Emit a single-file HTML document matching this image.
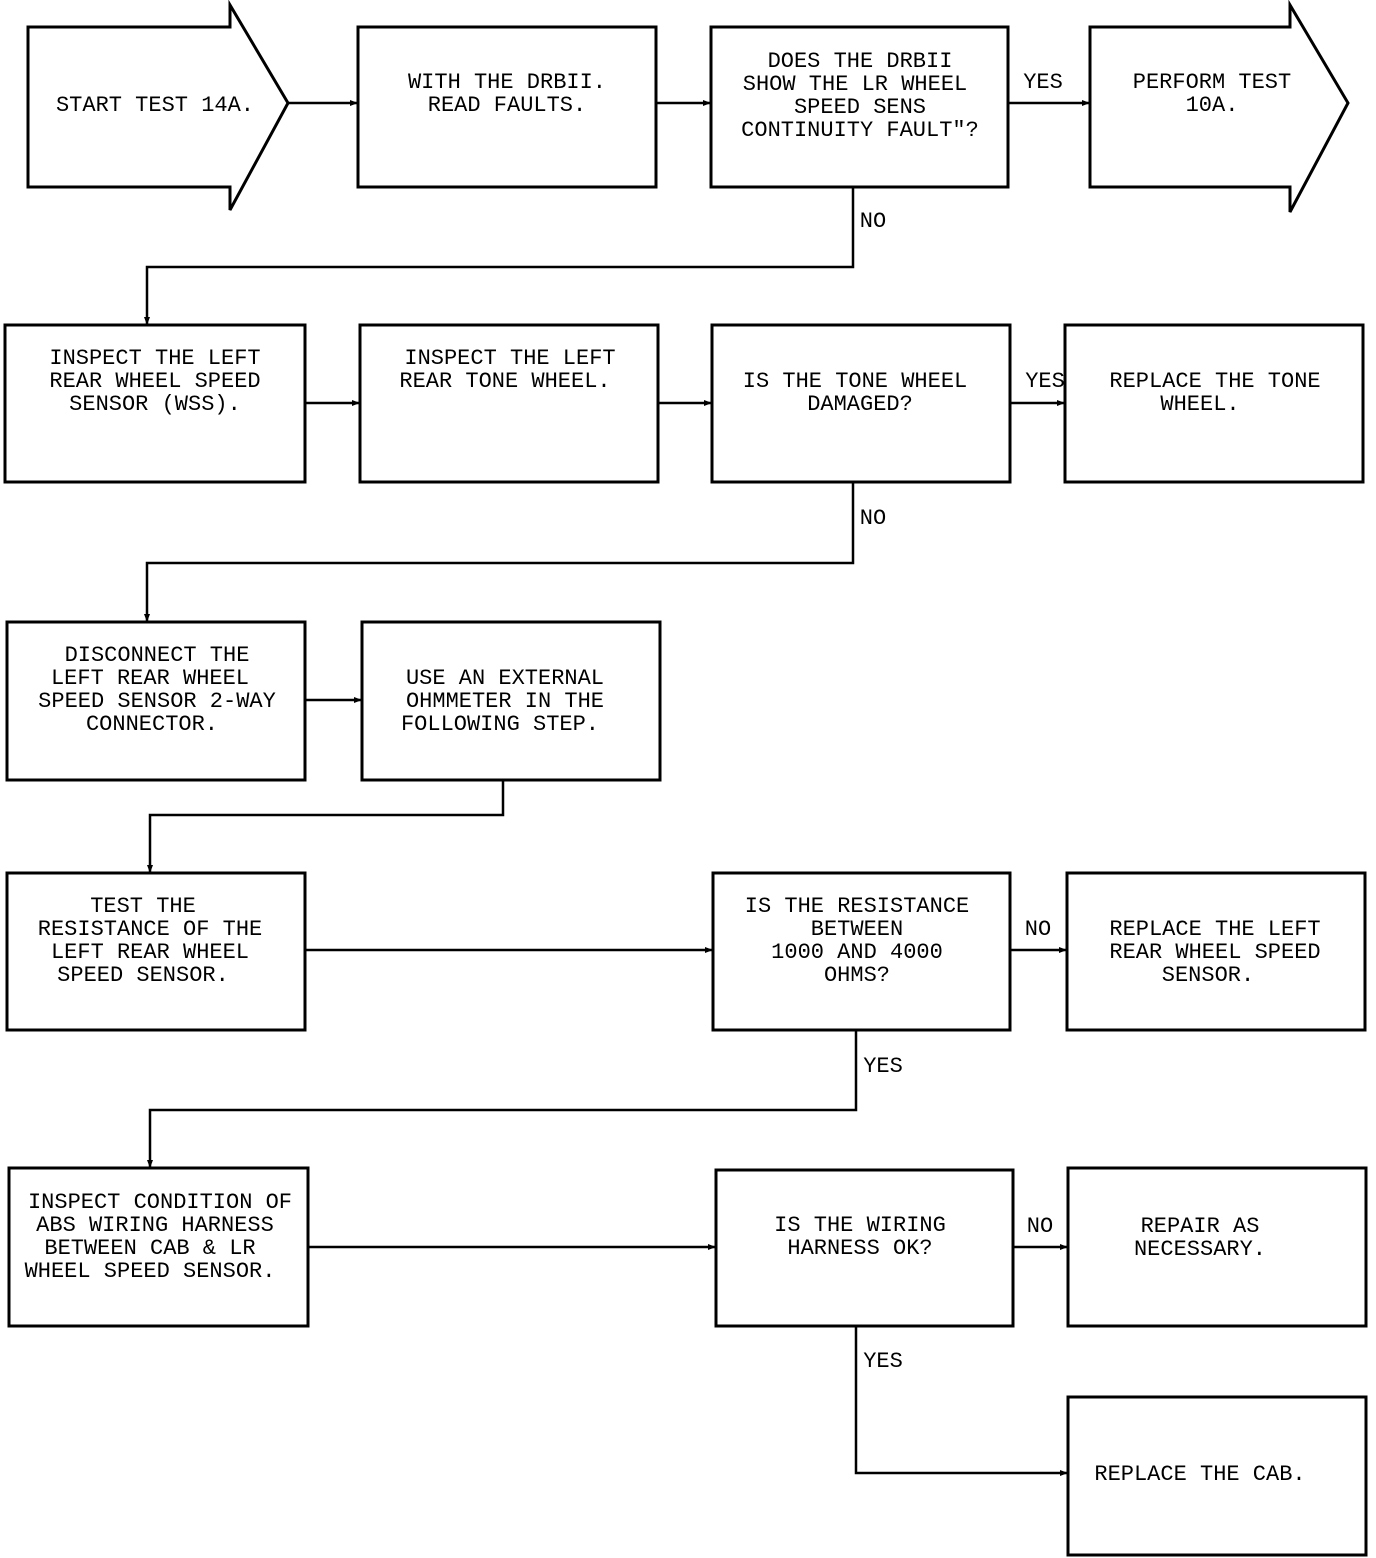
<!DOCTYPE html>
<html><head><meta charset="utf-8"><style>
html,body{margin:0;padding:0;background:#fff}
svg{display:block}
text{font-family:"Liberation Mono",monospace;font-size:22px;fill:#000;text-anchor:middle}
</style></head><body>
<svg width="1376" height="1558" viewBox="0 0 1376 1558" xmlns="http://www.w3.org/2000/svg">
<defs><marker id="a" markerWidth="8" markerHeight="8" refX="7" refY="4" orient="auto" markerUnits="userSpaceOnUse"><path d="M0,1 L8,4 L0,7z" fill="#000"/></marker></defs>
<g fill="none" stroke="#000" stroke-width="3">
<path d="M28,27 H230 V5 L288,103 L230,210 V187 H28 Z"/>
<rect x="358" y="27" width="298" height="160"/>
<rect x="711" y="27" width="297" height="160"/>
<path d="M1090,27 H1290 V5 L1348,103 L1290,212 V187 H1090 Z"/>
<rect x="5" y="325" width="300" height="157"/>
<rect x="360" y="325" width="298" height="157"/>
<rect x="712" y="325" width="298" height="157"/>
<rect x="1065" y="325" width="298" height="157"/>
<rect x="7" y="622" width="298" height="158"/>
<rect x="362" y="622" width="298" height="158"/>
<rect x="7" y="873" width="298" height="157"/>
<rect x="713" y="873" width="297" height="157"/>
<rect x="1067" y="873" width="298" height="157"/>
<rect x="9" y="1168" width="299" height="158"/>
<rect x="716" y="1170" width="297" height="156"/>
<rect x="1068" y="1168" width="298" height="158"/>
<rect x="1068" y="1397" width="298" height="158"/>
</g>
<g fill="none" stroke="#000" stroke-width="2.5" marker-end="url(#a)">
<path d="M288,103 H357"/>
<path d="M656,103 H710"/>
<path d="M1008,103 H1089"/>
<path d="M853,187 V267 H147 V324"/>
<path d="M305,403 H359"/>
<path d="M658,403 H711"/>
<path d="M1010,403 H1064"/>
<path d="M853,482 V563 H147 V621"/>
<path d="M305,700 H361"/>
<path d="M503,780 V815 H150 V872"/>
<path d="M305,950 H712"/>
<path d="M1010,950 H1066"/>
<path d="M856,1030 V1110 H150 V1167"/>
<path d="M308,1247 H715"/>
<path d="M1013,1247 H1067"/>
<path d="M856,1326 V1473 H1067"/>
</g>
<text x="155" y="111">START TEST 14A.</text>
<text x="507" y="88">WITH THE DRBII.</text><text x="507" y="111">READ FAULTS.</text>
<text x="860" y="67">DOES THE DRBII</text><text x="855" y="90">SHOW THE LR WHEEL</text><text x="860" y="113">SPEED SENS</text><text x="860" y="136">CONTINUITY FAULT"?</text>
<text x="1043" y="88">YES</text>
<text x="1212" y="88">PERFORM TEST</text><text x="1212" y="111">10A.</text>
<text x="873" y="227">NO</text>
<text x="155" y="364">INSPECT THE LEFT</text><text x="155" y="387">REAR WHEEL SPEED</text><text x="155" y="410">SENSOR (WSS).</text>
<text x="510" y="364">INSPECT THE LEFT</text><text x="505" y="387">REAR TONE WHEEL.</text>
<text x="855" y="387">IS THE TONE WHEEL</text><text x="860" y="410">DAMAGED?</text>
<text x="1045" y="387">YES</text>
<text x="1215" y="387">REPLACE THE TONE</text><text x="1200" y="410">WHEEL.</text>
<text x="873" y="524">NO</text>
<text x="157" y="661">DISCONNECT THE</text><text x="150" y="684">LEFT REAR WHEEL</text><text x="157" y="707">SPEED SENSOR 2-WAY</text><text x="152" y="730">CONNECTOR.</text>
<text x="505" y="684">USE AN EXTERNAL</text><text x="505" y="707">OHMMETER IN THE</text><text x="500" y="730">FOLLOWING STEP.</text>
<text x="143" y="912">TEST THE</text><text x="150" y="935">RESISTANCE OF THE</text><text x="150" y="958">LEFT REAR WHEEL</text><text x="143" y="981">SPEED SENSOR.</text>
<text x="857" y="912">IS THE RESISTANCE</text><text x="857" y="935">BETWEEN</text><text x="857" y="958">1000 AND 4000</text><text x="857" y="981">OHMS?</text>
<text x="1038" y="935">NO</text>
<text x="1215" y="935">REPLACE THE LEFT</text><text x="1215" y="958">REAR WHEEL SPEED</text><text x="1208" y="981">SENSOR.</text>
<text x="883" y="1072">YES</text>
<text x="160" y="1208">INSPECT CONDITION OF</text><text x="155" y="1231">ABS WIRING HARNESS</text><text x="150" y="1254">BETWEEN CAB &amp; LR</text><text x="150" y="1277">WHEEL SPEED SENSOR.</text>
<text x="860" y="1231">IS THE WIRING</text><text x="860" y="1254">HARNESS OK?</text>
<text x="1040" y="1232">NO</text>
<text x="1200" y="1232">REPAIR AS</text><text x="1200" y="1255">NECESSARY.</text>
<text x="883" y="1367">YES</text>
<text x="1200" y="1480">REPLACE THE CAB.</text>
</svg>
</body></html>
